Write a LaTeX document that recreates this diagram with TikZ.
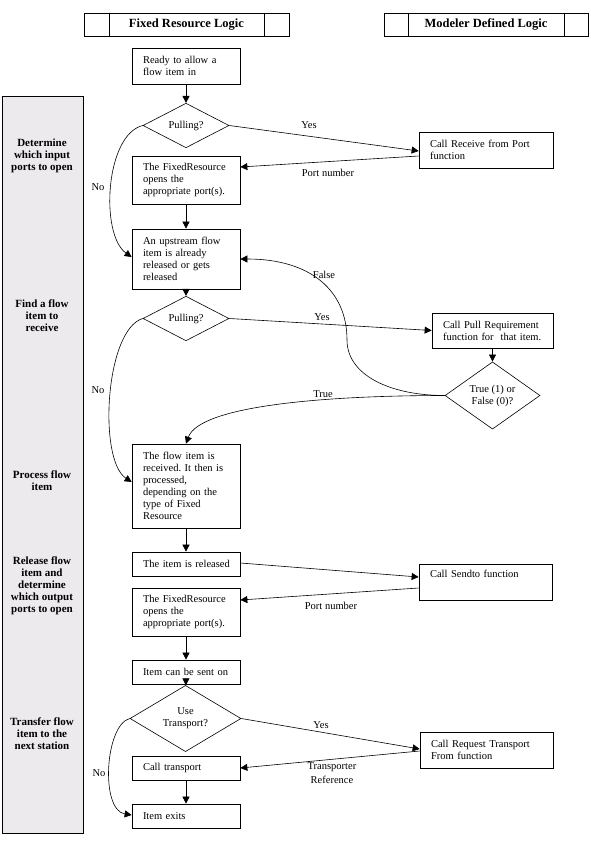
\documentclass[tikz,border=0pt]{standalone}
\usepackage{fontspec}
\setmainfont{Liberation Serif}
\usetikzlibrary{arrows.meta,shapes.geometric,calc}
\definecolor{sidefill}{RGB}{237,234,238}
\newcommand{\bodyfont}{\fontsize{10.5}{12}\selectfont\frenchspacing\hyphenpenalty=10000 }
\newcommand{\sidefont}{\fontsize{11}{12}\selectfont\bfseries}
\newcommand{\headfont}{\fontsize{12.5}{14}\selectfont\bfseries}
\begin{document}
\begin{tikzpicture}[x=1pt,y=-1pt,
  bx/.style={draw, rectangle, inner xsep=11pt, inner ysep=0pt, align=left, font=\bodyfont, line width=0.7pt},
  dm/.style={draw, diamond, inner sep=0pt, align=center, font=\bodyfont, line width=0.6pt},
  arr/.style={-{Triangle[length=7pt,width=7pt]}, line width=0.6pt},
  lbl/.style={font=\bodyfont, inner sep=0pt, align=center},
  sidelbl/.style={font=\sidefont, align=center, inner sep=0pt},
  hdr/.style={draw, rectangle, minimum height=23pt, inner sep=0pt, font=\headfont, line width=0.7pt}]
\useasboundingbox (0,0) rectangle (590,842);
\fill[white] (0,0) rectangle (590,842);

% sidebar
\draw[fill=sidefill, line width=0.7pt] (2,96) rectangle (83,833);
\node[sidelbl] (s1) at (42,156) {Determine\\which input\\ports to open};
\node[sidelbl] (s2) at (42,316) {Find a flow\\item to\\receive};
\node[sidelbl] (s3) at (42,481) {Process flow\\item};
\node[sidelbl] (s4) at (42,586) {Release flow\\item and\\determine\\which output\\ports to open};
\node[sidelbl] (s5) at (42,733.5) {Transfer flow\\item to the\\next station};

% headers
\node[hdr, minimum width=205pt] (hdrL) at (186.5,24.5) {Fixed Resource Logic};
\draw[line width=0.7pt] ($(hdrL.north west)+(26,0)$) -- ($(hdrL.south west)+(26,0)$);
\draw[line width=0.7pt] ($(hdrL.north east)+(-25,0)$) -- ($(hdrL.south east)+(-25,0)$);
\node[hdr, minimum width=204pt] (hdrR) at (486,24.5) {Modeler Defined Logic};
\draw[line width=0.7pt] ($(hdrR.north west)+(25,0)$) -- ($(hdrR.south west)+(25,0)$);
\draw[line width=0.7pt] ($(hdrR.north east)+(-24,0)$) -- ($(hdrR.south east)+(-24,0)$);

% left column
\node[bx, minimum width=108pt, text width=86pt, minimum height=36pt] (ready) at (186,66) {Ready to allow a\\flow item in};
\node[dm, minimum width=86pt, minimum height=35pt] (pull1) at (186,125.5) {Pulling?};
\node[bx, minimum width=108pt, text width=86pt, minimum height=48pt] (fr1) at (186,180) {The FixedResource\\opens the\\appropriate port(s).};
\node[bx, minimum width=108pt, text width=86pt, minimum height=60pt] (up) at (186,259) {An upstream flow\\item is already\\released or gets\\released};
\node[dm, minimum width=86pt, minimum height=35pt] (pull2) at (186,318.5) {Pulling?};
\node[bx, minimum width=108pt, text width=86pt, minimum height=84pt] (recv) at (186,486) {The flow item is\\received. It then is\\processed,\\depending on the\\type of Fixed\\Resource};
\node[bx, minimum width=108pt, text width=86pt, minimum height=24pt] (rel) at (186,564) {\mbox{The item is released}};
\node[bx, minimum width=108pt, text width=86pt, minimum height=48pt] (fr2) at (186,612) {The FixedResource\\opens the\\appropriate port(s).};
\node[bx, minimum width=108pt, text width=86pt, minimum height=24pt] (sendon) at (186,672) {\mbox{Item can be sent on}};
\node[dm, minimum width=111pt, minimum height=49pt] (ut) at (185.5,718.5) {Use\\Transport?};
\node[bx, minimum width=108pt, text width=86pt, minimum height=24pt] (calltr) at (186,768) {Call transport};
\node[bx, minimum width=108pt, text width=86pt, minimum height=24pt] (exits) at (186,816) {Item exits};

% right column
\node[bx, minimum width=134pt, text width=112pt, minimum height=36pt] (crp) at (486,150) {Call Receive from Port\\function};
\node[bx, minimum width=121pt, text width=99pt, minimum height=35pt] (cpr) at (492.5,330.5) {Call Pull Requirement\\function for\ \ that item.};
\node[dm, minimum width=95pt, minimum height=47pt] (tf) at (492.5,395.5) {True (1) or\\False (0)?};
\node[bx, minimum width=133pt, text width=111pt, minimum height=36pt] (csend) at (485.5,582) {Call Sendto function\\\strut};
\node[bx, minimum width=133pt, text width=111pt, minimum height=36pt] (creq) at (486.5,750) {Call Request Transport\\From function};

% vertical arrows
\draw[arr] (ready) -- (pull1);
\draw[arr] (fr1) -- (up);
\draw[arr] (up) -- (pull2);
\draw[arr] (recv) -- (rel);
\draw[arr] (fr2) -- (sendon);
\draw[arr] (sendon) -- (ut);
\draw[arr] (calltr) -- (exits);
\draw[arr] (cpr) -- (tf);

% horizontal arrows
\draw[arr] (pull1.east) -- ($(crp.west)+(0,1)$);
\draw[arr] ($(crp.west)+(0,6)$) -- ($(fr1.east)+(0,-13)$);
\draw[arr] (pull2.east) -- (cpr.west);
\draw[arr] ($(rel.east)+(0,-1)$) -- ($(csend.west)+(0,-5)$);
\draw[arr] ($(csend.west)+(0,6)$) -- ($(fr2.east)+(0,-12)$);
\draw[arr] (ut.east) -- ($(creq.west)+(0,-1)$);
\draw[arr] ($(creq.west)+(0,1)$) -- (calltr.east);

% curves
\draw[arr] (tf.west) .. controls (390,395.5) and (347,375) .. (347,340) .. controls (347,290) and (310,259) .. (up.east);
\draw[arr] (tf.west) .. controls (330,395.5) and (200,405) .. (recv.north);
\draw[arr] (pull1.west) .. controls (105,135) and (100,235) .. ($(up.west)+(0,-2)$);
\draw[arr] (pull2.west) .. controls (105,330) and (98,460) .. ($(recv.west)+(0,-4)$);
\draw[arr] (ut.west) .. controls (105,725) and (100,810) .. ($(exits.west)+(0,-1)$);

% labels
\node[lbl] (l1) at (309,125) {Yes};
\node[lbl] (l2) at (328,173) {Port number};
\node[lbl] (l3) at (98,187) {No};
\node[lbl] (l4) at (322,317) {Yes};
\node[lbl] (l5) at (324,275) {False};
\node[lbl] (l6) at (323,394) {True};
\node[lbl] (l7) at (98,390) {No};
\node[lbl] (l8) at (331,606) {Port number};
\node[lbl] (l9) at (321,725) {Yes};
\node[lbl] (l10) at (332,773) {Transporter\\[2pt]Reference};
\node[lbl] (l11) at (99,773) {No};
\end{tikzpicture}
\end{document}
